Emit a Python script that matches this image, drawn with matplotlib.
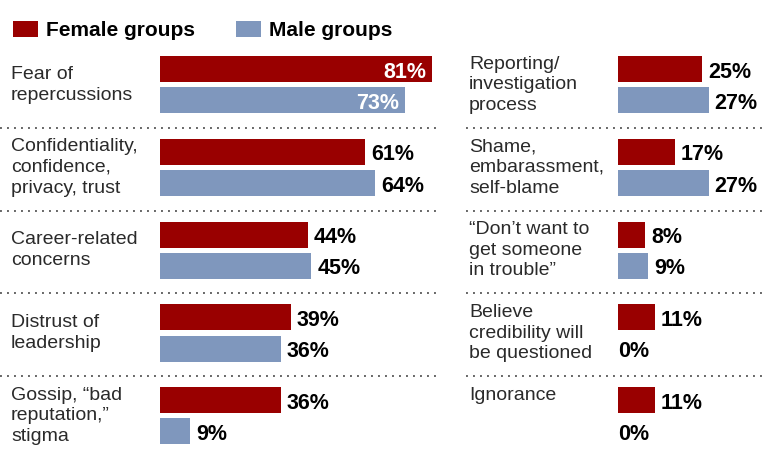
import matplotlib
matplotlib.use('Agg')
import matplotlib.pyplot as plt
import matplotlib.transforms as mtransforms

plt.rcParams['font.family'] = ['Liberation Sans', 'DejaVu Sans']

# data
left_labels = ['Fear of\nrepercussions',
               'Confidentiality,\nconfidence,\nprivacy, trust',
               'Career-related\nconcerns',
               'Distrust of\nleadership',
               'Gossip, \u201cbad\nreputation,\u201d\nstigma']
left_female = [81, 61, 44, 39, 36]
left_male = [73, 64, 45, 36, 9]

right_labels = ['Reporting/\ninvestigation\nprocess',
                'Shame,\nembarassment,\nself-blame',
                '\u201cDon\u2019t want to\nget someone\nin trouble\u201d',
                'Believe\ncredibility will\nbe questioned',
                'Ignorance']
right_female = [25, 17, 8, 11, 11]
right_male = [27, 27, 9, 0, 0]

RED = '#990000'
BLUE = '#7f97bd'
W, H = 762, 454
PX_PER_PCT = 3.36
GROUP_PX = 82.75
TOP_CENTER_PX = 84.75

fig = plt.figure(figsize=(W / 100, H / 100), dpi=100)

ytop = -TOP_CENTER_PX / GROUP_PX
ybot = (H - TOP_CENTER_PX) / GROUP_PX


def make_panel(x0_px, x1_px, label_x_px, line_x0_px, line_x1_px,
               labels, female, male):
    ax = fig.add_axes([x0_px / W, 0, (x1_px - x0_px) / W, 1])
    ax.set_xlim(0, (x1_px - x0_px) / PX_PER_PCT)
    ax.set_ylim(ybot, ytop)
    ax.axis('off')
    n = len(labels)
    yf = [i - 0.19 for i in range(n)]
    ym = [i + 0.19 for i in range(n)]
    h = 26 / GROUP_PX
    bf = ax.barh(yf, female, height=h, color=RED, label='Female groups')
    bm = ax.barh(ym, male, height=h, color=BLUE, label='Male groups')

    off = mtransforms.offset_copy
    for bars, vals in ((bf, female), (bm, male)):
        for b, v in zip(bars, vals):
            yc = b.get_y() + b.get_height() / 2
            if v >= 70:
                t = off(ax.transData, fig=fig, x=-6, y=-3, units='dots')
                ax.text(v, yc, f'{v}%', transform=t, ha='right', va='center',
                        color='white', fontsize=15.5, fontweight='bold')
            else:
                dx = 6 if v > 0 else 0
                t = off(ax.transData, fig=fig, x=dx, y=-3, units='dots')
                ax.text(v, yc, f'{v}%', transform=t, ha='left', va='center',
                        color='black', fontsize=15.5, fontweight='bold')

    blend = mtransforms.blended_transform_factory(fig.transFigure, ax.transData)
    for i, lab in enumerate(labels):
        if '\n' in lab:
            ax.text(label_x_px / W, i, lab, transform=blend, ha='left',
                    va='center', fontsize=14, color='#2a2a2a', linespacing=1.28)
        else:
            ax.text(label_x_px / W, yf[i] - h / 2, lab, transform=blend,
                    ha='left', va='top', fontsize=14, color='#2a2a2a')

    for i in range(n - 1):
        ax.plot([line_x0_px / W, line_x1_px / W], [i + 0.52, i + 0.52],
                transform=blend, color='#666666', lw=1.4,
                linestyle=(0, (1, 2.6)), clip_on=False)
    return ax


axl = make_panel(160, 440, 11, 0, 441, left_labels, left_female, left_male)
axr = make_panel(618, 762, 469, 466, 762, right_labels, right_female, right_male)

handles, labs = axl.get_legend_handles_labels()
fig.legend(handles, labs, loc='upper left', bbox_to_anchor=(-6 / W, 1 - 2 / H),
           ncol=2, frameon=False, handlelength=1.2, handleheight=0.85,
           handletextpad=0.38, columnspacing=2.0,
           prop={'size': 15, 'weight': 'bold'})

fig.savefig('out.png', dpi=100)
